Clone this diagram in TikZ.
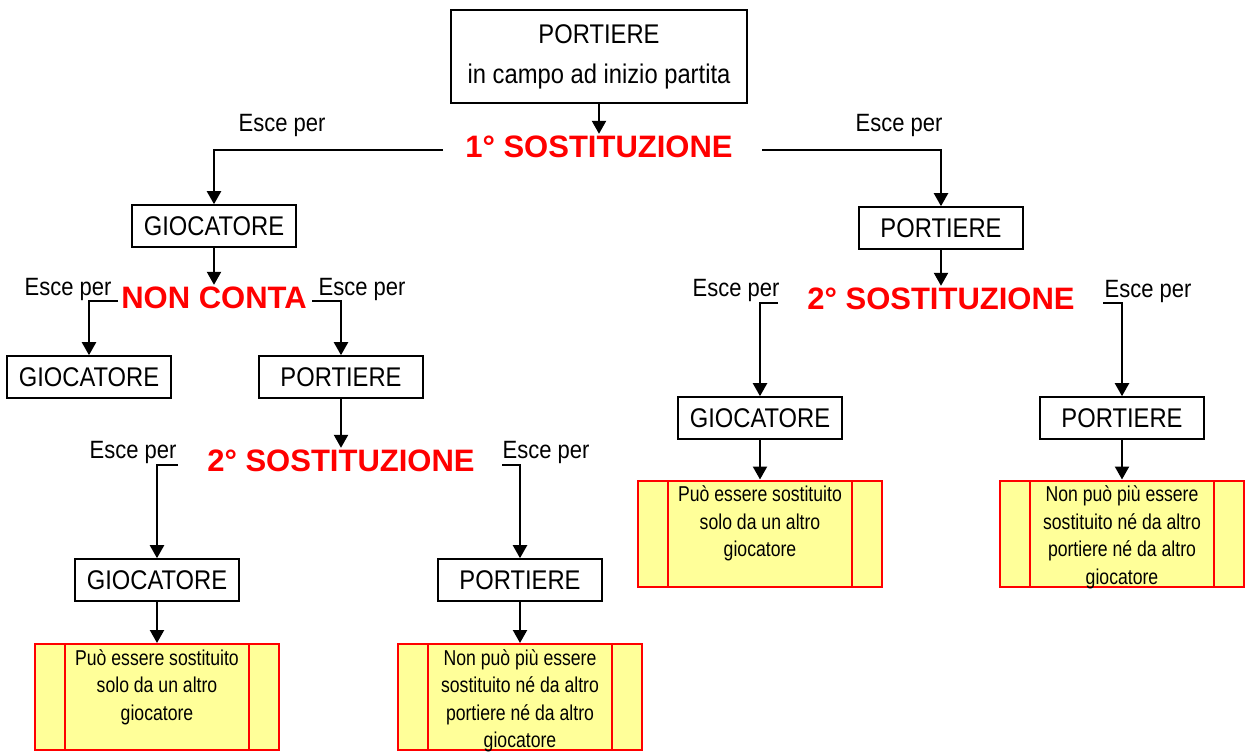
\documentclass[tikz,border=0pt]{standalone}
\usepackage{fontspec}
\setmainfont{Liberation Sans}[FakeStretch=0.88]
\newfontfamily\stagefont{Liberation Sans}
\newfontfamily\notefont{Liberation Sans}[FakeStretch=0.82]
\usetikzlibrary{arrows.meta,calc}

\definecolor{noteyellow}{RGB}{255,255,153}
\definecolor{stagered}{RGB}{255,0,0}

\tikzset{
  namebox/.style={draw,line width=1.6pt,minimum width=164pt,minimum height=42pt,inner sep=0pt,
    font=\fontsize{27}{32}\selectfont},
  stagelabel/.style={text=stagered,font=\stagefont\fontsize{31}{36}\selectfont\bfseries,inner sep=2pt},
  exitlabel/.style={font=\fontsize{25}{30}\selectfont,inner sep=0pt},
  notebox/.style={draw=stagered,fill=noteyellow,line width=2pt,minimum width=244pt,minimum height=106pt,
    path picture={\draw[stagered,line width=2pt]
      ([xshift=30pt]path picture bounding box.north west) -- ([xshift=30pt]path picture bounding box.south west)
      ([xshift=-30pt]path picture bounding box.north east) -- ([xshift=-30pt]path picture bounding box.south east);}},
  notetext/.style={anchor=north,align=center,inner sep=0pt,font=\notefont\fontsize{21.5}{27.5}\selectfont},
  link/.style={->,line width=2.2pt}
}

\begin{document}
\begin{tikzpicture}[x=1pt,y=-1pt,>={Triangle[width=14pt,length=13pt]}]
\useasboundingbox (0,0) rectangle (1248,754);

% top
\node[draw,line width=1.6pt,minimum width=296pt,minimum height=93pt,align=center,
  font=\fontsize{27}{40}\selectfont] (start) at (599,56.5) {PORTIERE\\in campo ad inizio partita};
\node[stagelabel] (s1) at (599,147) {1° SOSTITUZIONE};
\node[exitlabel] (e1) at (282,125) {Esce per};
\node[exitlabel] (e2) at (899,125) {Esce per};
\coordinate (s1l) at (443,150);
\coordinate (s1r) at (762,150);
\node[namebox] (g1) at (214,226) {GIOCATORE};
\node[namebox] (p1) at (941,228) {PORTIERE};

% left branch
\node[stagelabel] (nc) at (214,298) {NON CONTA};
\node[exitlabel] (e3) at (68,289) {Esce per};
\node[exitlabel] (e4) at (362,289) {Esce per};
\coordinate (ncl) at (118,301);
\coordinate (ncr) at (312,301);
\node[namebox] (g2) at (89,377) {GIOCATORE};
\node[namebox] (p2) at (341,377) {PORTIERE};

\node[stagelabel] (s2a) at (341,461) {2° SOSTITUZIONE};
\node[exitlabel] (e5) at (133,452) {Esce per};
\node[exitlabel] (e6) at (546,452) {Esce per};
\coordinate (s2al) at (178,465);
\coordinate (s2ar) at (502,465);
\node[namebox] (g3) at (157,580) {GIOCATORE};
\node[namebox] (p3) at (520,580) {PORTIERE};

\node[notebox] (y1) at (157,697) {};
\node[notetext] (t1) at ([yshift=-6pt]y1.north) {Può essere sostituito\\solo da un altro\\giocatore};
\node[notebox] (y2) at (520,697) {};
\node[notetext] (t2) at ([yshift=-6pt]y2.north) {Non può più essere\\sostituito né da altro\\portiere né da altro\\giocatore};

% right branch
\node[stagelabel] (s2b) at (941,299) {2° SOSTITUZIONE};
\node[exitlabel] (e7) at (736,290) {Esce per};
\node[exitlabel] (e8) at (1148,291) {Esce per};
\coordinate (s2bl) at (778,303);
\coordinate (s2br) at (1103,303);
\node[namebox] (g4) at (760,418) {GIOCATORE};
\node[namebox] (p4) at (1122,418) {PORTIERE};

\node[notebox] (y3) at (760,533.5) {};
\node[notetext] (t3) at ([yshift=-6pt]y3.north) {Può essere sostituito\\solo da un altro\\giocatore};
\node[notebox] (y4) at (1122,533.5) {};
\node[notetext] (t4) at ([yshift=-6pt]y4.north) {Non può più essere\\sostituito né da altro\\portiere né da altro\\giocatore};

% connectors
\draw[link] (start.south) -- (s1.north);
\draw[link] (s1l) -| (g1.north);
\draw[link] (s1r) -| (p1.north);
\draw[link] (g1.south) -- (nc.north);
\draw[link] (ncl) -| (g2.north);
\draw[link] (ncr) -| (p2.north);
\draw[link] (p2.south) -- (s2a.north);
\draw[link] (s2al) -| (g3.north);
\draw[link] (s2ar) -| (p3.north);
\draw[link] (g3.south) -- (y1.north);
\draw[link] (p3.south) -- (y2.north);
\draw[link] (p1.south) -- (s2b.north);
\draw[link] (s2bl) -| (g4.north);
\draw[link] (s2br) -| (p4.north);
\draw[link] (g4.south) -- (y3.north);
\draw[link] (p4.south) -- (y4.north);
\end{tikzpicture}
\end{document}
